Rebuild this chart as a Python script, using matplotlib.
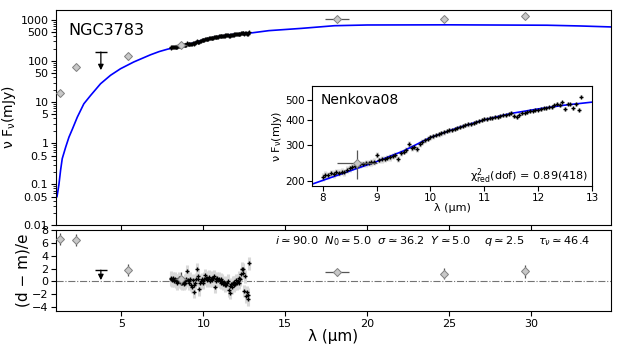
import numpy as np
import matplotlib
matplotlib.use("Agg")
import matplotlib.pyplot as plt
from matplotlib.ticker import FixedLocator, NullLocator, LogLocator, NullFormatter

# model SED (blue curve)
model_wave = [1.06, 1.12, 1.18, 1.28, 1.38, 1.59, 1.79, 2.0, 2.3, 2.7, 3.11, 3.72,
              4.33, 4.94, 5.75, 6.77, 7.3, 7.8, 8.5, 9.0, 9.5, 10.0, 10.5, 11.0,
              11.5, 12.0, 12.5, 13.0, 14.0, 16.0, 18.0, 20.0, 25.0, 31.0, 33.0, 35.0]
model_flux = [0.05, 0.07, 0.10, 0.22, 0.42, 0.80, 1.4, 2.2, 4.3, 9.1, 14.5, 28,
              45, 65, 95, 142, 170, 194, 225, 250, 282, 328, 365, 400,
              430, 452, 472, 488, 550, 625, 725, 755, 762, 745, 715, 675]

# photometry (grey diamonds)
phot_wave = [1.25, 2.2, 5.4, 8.64, 18.15, 24.7, 29.65]
phot_flux = [17, 70, 132, 245, 1040, 1070, 1250]
phot_xerr = [0, 0, 0, 0.37, 0.75, 0, 0]
phot_yerr = [2.5, 10, 25, 40, 60, 110, 160]
phot_resid = [6.6, 6.4, 1.8, 0.4, 1.4, 1.2, 1.6]
phot_rerr = [0.9, 0.9, 0.9, 1.0, 0.6, 0.9, 1.0]

# upper limit
ul_wave = 3.74
ul_flux = 166
ul_tip = 60
ul_resid = 1.75
ul_resid_tip = 0.2

# spectrum
spec_wave = [8.00, 8.05, 8.10, 8.15, 8.20, 8.25, 8.30, 8.35, 8.40, 8.45,
             8.50, 8.55, 8.60, 8.65, 8.70, 8.75, 8.80, 8.85, 8.90, 8.95,
             9.00, 9.05, 9.10, 9.15, 9.20, 9.25, 9.30, 9.35, 9.40, 9.45,
             9.50, 9.55, 9.60, 9.65, 9.70, 9.75, 9.80, 9.85, 9.90, 9.95,
             10.00, 10.05, 10.10, 10.15, 10.20, 10.25, 10.30, 10.35, 10.40, 10.45,
             10.50, 10.55, 10.60, 10.65, 10.70, 10.75, 10.80, 10.85, 10.90, 10.95,
             11.00, 11.05, 11.10, 11.15, 11.20, 11.25, 11.30, 11.35, 11.40, 11.45,
             11.50, 11.55, 11.60, 11.65, 11.70, 11.75, 11.80, 11.85, 11.90, 11.95,
             12.00, 12.05, 12.10, 12.15, 12.20, 12.25, 12.30, 12.35, 12.40, 12.45,
             12.50, 12.55, 12.60, 12.65, 12.70, 12.75, 12.80]
spec_flux = [210, 216, 214, 219, 218, 222, 221, 223, 222, 228,
             232, 236, 238, 241, 242, 244, 245, 246, 248, 250,
             268, 254, 256, 258, 261, 262, 265, 268, 258, 276,
             280, 284, 305, 291, 294, 288, 305, 312, 317, 323,
             329, 333, 337, 340, 344, 348, 352, 355, 357, 362,
             364, 368, 372, 376, 380, 383, 386, 391, 395, 398,
             402, 405, 407, 410, 412, 414, 416, 420, 424, 428,
             432, 418, 411, 424, 430, 434, 438, 442, 444, 446,
             449, 451, 455, 458, 460, 462, 470, 478, 472, 487,
             452, 480, 476, 455, 478, 446, 519]
spec_resid = [0.3, 0.6, 0.2, 0.5, 0.1, 0.4, 0.0, 0.2, -0.3, 0.1,
              0.5, 0.3, 0.0, -0.2, -0.3, -0.1, -0.4, 0.1, -0.2, 0.3,
              1.6, 0.2, 0.0, -0.3, 0.4, -0.5, -0.8, 0.2, -1.6, -0.6,
              -0.2, 0.3, 1.9, 0.8, 0.4, -1.2, -0.3, 0.1, 0.3, -0.2,
              0.0, 0.4, 1.0, 0.6, 0.2, 0.5, 0.3, 0.7, 0.1, 0.4,
              0.6, 0.2, 0.5, 0.8, -0.8, 0.3, 0.1, 0.5, 0.2, 0.4,
              0.0, 0.3, -0.2, 0.1, -0.4, -0.1, -0.6, -0.3, -0.5, -0.2,
              0.1, -1.4, -1.8, -0.7, -0.4, -0.9, -0.2, -0.6, -0.1, -0.4,
              0.2, -0.3, 0.1, -0.2, 0.6, 0.3, 1.1, 2.0, 1.3, 1.9,
              -1.5, 0.8, -2.3, -1.7, -2.8, -2.1, 2.8]
SPEC_ERR = 9.0

params_text = (r"$i\simeq90.0$  $N_0\simeq5.0$  $\sigma\simeq36.2$  "
               r"$Y\simeq5.0$    $q\simeq2.5$    $\tau_\nu\simeq46.4$")

DIA = dict(marker="D", ms=4.3, mfc="#c8c8c8", mec="#808080", mew=0.7, ls="none",
           ecolor="#555555", elinewidth=0.9, capsize=0, zorder=4)

FLUX_LABEL = r"ν F$_\mathregular{ν}$(mJy)"
WAVE_LABEL = "λ (μm)"


def draw_spec(ax, y, err, ms=3.0):
    ax.errorbar(spec_wave, y, yerr=err, fmt="none", ecolor="0.85",
                elinewidth=2.2, zorder=1)
    ax.plot(spec_wave, y, "+", color="k", ms=ms, mew=1.0, zorder=3)


def upper_limit(ax, x, top, tip):
    ax.annotate("", xy=(x, tip), xytext=(x, top),
                arrowprops=dict(arrowstyle="-|>", color="k", lw=0.9,
                                mutation_scale=8, shrinkA=0, shrinkB=0))
    ax.plot([x], [top], marker="_", ms=8, mew=1.0, color="k")


def main():
    fig = plt.figure(figsize=(6.23, 3.46), dpi=100)
    ax = fig.add_axes([0.0899, 0.3488, 0.8909, 0.6223])
    axr = fig.add_axes([0.0899, 0.1012, 0.8909, 0.2341])
    axi = fig.add_axes([0.5008, 0.4624, 0.4494, 0.2890])

    # --- top panel
    ax.plot(model_wave, model_flux, color="blue", lw=1.2, zorder=2)
    draw_spec(ax, spec_flux, SPEC_ERR, ms=3.0)
    ax.errorbar(phot_wave, phot_flux, xerr=phot_xerr, yerr=phot_yerr, **DIA)
    upper_limit(ax, ul_wave, ul_flux, ul_tip)
    ax.set_yscale("log")
    ax.set_xlim(1.0, 34.9)
    ax.set_ylim(0.01, 1750)
    yt = [0.01, 0.05, 0.1, 0.5, 1, 5, 10, 50, 100, 500, 1000]
    ax.yaxis.set_major_locator(FixedLocator(yt))
    ax.set_yticklabels(["0.01", "0.05", "0.1", "0.5", "1", "5", "10", "50",
                        "100", "500", "1000"])
    ax.yaxis.set_minor_locator(LogLocator(base=10, subs=np.arange(2, 10)))
    ax.yaxis.set_minor_formatter(NullFormatter())
    ax.set_xticks([5, 10, 15, 20, 25, 30])
    ax.tick_params(labelbottom=False, labelsize=8, pad=2)
    ax.set_ylabel(FLUX_LABEL, fontsize=10, labelpad=2)
    ax.text(0.022, 0.905, "NGC3783", transform=ax.transAxes, fontsize=11.5,
            va="center")

    # --- residual panel
    axr.axhline(0, color="0.45", ls="-.", lw=0.8, zorder=1)
    draw_spec(axr, spec_resid, 1.0, ms=2.8)
    axr.errorbar(phot_wave, phot_resid, xerr=phot_xerr, yerr=phot_rerr, **DIA)
    upper_limit(axr, ul_wave, ul_resid, ul_resid_tip)
    axr.set_xlim(1.0, 34.9)
    axr.set_ylim(-4.6, 8)
    axr.set_yticks([-4, -2, 0, 2, 4, 6, 8])
    axr.set_xticks([5, 10, 15, 20, 25, 30])
    axr.tick_params(labelsize=8, pad=2)
    axr.set_ylabel("(d − m)/e", fontsize=11, labelpad=1)
    axr.set_xlabel(WAVE_LABEL, fontsize=11, labelpad=0)
    axr.text(0.962, 0.87, params_text, transform=axr.transAxes, fontsize=8.2,
             ha="right", va="center")

    # --- inset
    axi.plot(model_wave, model_flux, color="blue", lw=1.2, zorder=2)
    draw_spec(axi, spec_flux, SPEC_ERR, ms=3.0)
    axi.errorbar(phot_wave[3:4], phot_flux[3:4], xerr=phot_xerr[3:4],
                 yerr=phot_yerr[3:4], **DIA)
    axi.set_yscale("log")
    axi.set_xlim(7.8, 13)
    axi.set_ylim(190, 585)
    axi.yaxis.set_major_locator(FixedLocator([200, 300, 400, 500]))
    axi.set_yticklabels(["200", "300", "400", "500"])
    axi.yaxis.set_minor_locator(NullLocator())
    axi.set_xticks([8, 9, 10, 11, 12, 13])
    axi.tick_params(labelsize=7.5, pad=1.5)
    axi.set_ylabel(FLUX_LABEL, fontsize=8, labelpad=1)
    axi.set_xlabel(WAVE_LABEL, fontsize=8, labelpad=0)
    axi.text(0.03, 0.86, "Nenkova08", transform=axi.transAxes, fontsize=10,
             va="center")
    axi.text(0.985, 0.1, r"$\mathregular{\chi^2_{red}}$(dof) = 0.89(418)",
             transform=axi.transAxes, fontsize=8, ha="right", va="center")

    fig.savefig("out.png", dpi=100)


main()
